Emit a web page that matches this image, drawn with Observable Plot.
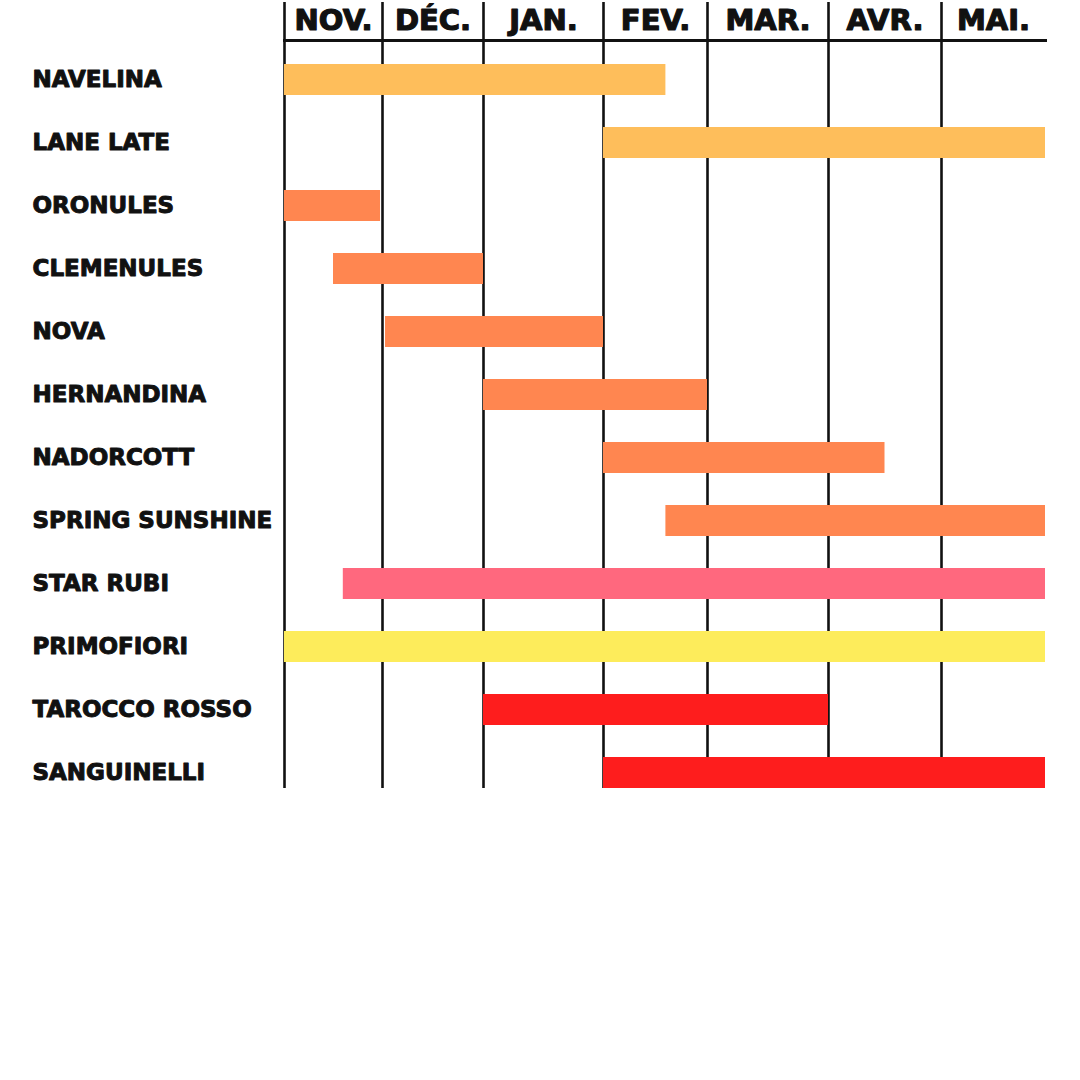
<!DOCTYPE html>
<html>
<head>
<meta charset="utf-8">
<script src="https://cdn.jsdelivr.net/npm/d3@7"></script>
<script src="https://cdn.jsdelivr.net/npm/@observablehq/plot@0.6"></script>
<style>
  html, body { margin: 0; padding: 0; background: #ffffff; }
  #chart { width: 1080px; height: 1080px; background: #ffffff; }
</style>
</head>
<body>
<div id="chart"></div>
<script>
// Month columns (0 = start of November)
const months = ["NOV.", "DÉC.", "JAN.", "FEV.", "MAR.", "AVR.", "MAI."];

// Varieties, in display order
const varieties = ["NAVELINA", "LANE LATE", "ORONULES", "CLEMENULES", "NOVA", "HERNANDINA",
  "NADORCOTT", "SPRING SUNSHINE", "STAR RUBI", "PRIMOFIORI", "TAROCCO ROSSO", "SANGUINELLI"];

// Season start / end, in months from the start of November
const seasonStart = [0, 3, 0, 0.5, 1.03, 2, 3, 3.6, 0.6, 0, 2, 3];
const seasonEnd   = [3.6, 7, 0.98, 2, 3, 4, 5.5, 7, 7, 7, 5, 7];

// Fruit group of each variety
const groups = ["orange", "orange", "mandarine", "mandarine", "mandarine", "mandarine",
  "mandarine", "mandarine", "pamplemousse", "citron", "sanguine", "sanguine"];

const groupOrder = ["orange", "mandarine", "pamplemousse", "citron", "sanguine"];
const groupColors = ["#FEBE5B", "#FF8650", "#FF687E", "#FDEC5B", "#FE1D1D"];

const data = varieties.map((name, i) => ({
  name, start: seasonStart[i], end: seasonEnd[i], group: groups[i]
}));
const monthData = months.map((m, i) => ({ label: m, index: i }));

const font = "'DejaVu Sans', sans-serif";

const chart = Plot.plot({
  width: 1080,
  height: 790,
  marginTop: 40,
  marginBottom: 2,
  marginLeft: 284,
  marginRight: 35,
  style: { background: "#ffffff", fontFamily: font },
  // piecewise linear: the hand-drawn month columns are of unequal width
  x: { type: "linear", domain: [0, 1, 2, 3, 4, 5, 6, 7], range: [284, 382, 483, 603, 707, 828, 941, 1045], axis: null },
  y: { type: "band", domain: varieties, range: [46.4, 804.6], padding: 0, axis: null },
  color: { domain: groupOrder, range: groupColors },
  marks: [
    Plot.ruleX(monthData, { x: "index", stroke: "#111", strokeWidth: 2.6, insetTop: -38 }),
    Plot.frame({ anchor: "top", stroke: "#111", strokeWidth: 3 }),
    Plot.barX(data, { x1: "start", x2: "end", y: "name", fill: "group", insetTop: 16, insetBottom: 16 }),
    Plot.text(monthData, { x: d => d.index + 0.5, text: "label", frameAnchor: "top", lineAnchor: "middle", dy: -20,
      fontSize: 29, fontWeight: "bold", fill: "#111", stroke: "#111", strokeWidth: 1.2 }),
    Plot.text(data, { y: "name", text: "name", frameAnchor: "left", textAnchor: "start", lineAnchor: "middle", dx: -252,
      fontSize: 23, fontWeight: "bold", fill: "#111", stroke: "#111", strokeWidth: 1 })
  ]
});

document.getElementById("chart").appendChild(chart);
</script>
</body>
</html>
